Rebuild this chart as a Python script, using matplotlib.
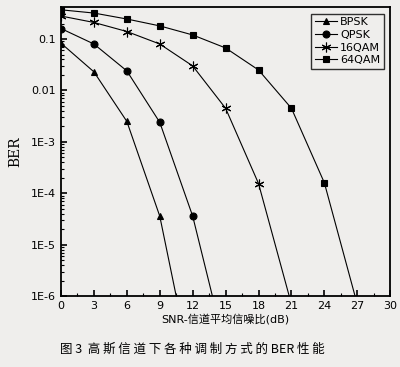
import matplotlib.pyplot as plt
from matplotlib.ticker import FixedLocator, MultipleLocator

plt.rcParams['font.family'] = ['DejaVu Sans', 'Noto Sans CJK SC']

# BER curves (last point = where the curve leaves the axis)
snr_bpsk = [0, 3, 6, 9, 10.5]
ber_bpsk = [0.083, 0.023, 0.0025, 3.6e-5, 1e-6]
snr_qpsk = [0, 3, 6, 9, 12, 13.8]
ber_qpsk = [0.16, 0.08, 0.024, 0.0024, 3.6e-5, 1e-6]
snr_16qam = [0, 3, 6, 9, 12, 15, 18, 20.8]
ber_16qam = [0.28, 0.21, 0.14, 0.08, 0.03, 0.0045, 1.55e-4, 1e-6]
snr_64qam = [0, 3, 6, 9, 12, 15, 18, 21, 24, 26.8]
ber_64qam = [0.37, 0.32, 0.245, 0.18, 0.12, 0.067, 0.025, 0.0045, 1.6e-4, 1e-6]

ytick_vals = [0.1, 0.01, 1e-3, 1e-4, 1e-5, 1e-6]
ytick_labels = ['0.1', '0.01', '1E-3', '1E-4', '1E-5', '1E-6']

bg = '#efeeec'
fig = plt.figure(figsize=(4, 3.67), dpi=100, facecolor=bg)
ax = fig.add_axes([0.1525, 0.193, 0.823, 0.788], facecolor=bg)

star = (6, 2, 0)
series = [
    (snr_bpsk, ber_bpsk, '^', 5, 'BPSK'),
    (snr_qpsk, ber_qpsk, 'o', 5, 'QPSK'),
    (snr_16qam, ber_16qam, star, 7, '16QAM'),
    (snr_64qam, ber_64qam, 's', 5, '64QAM'),
]
for x, y, m, ms, lab in series:
    # marker only on the read points, not on the exit point
    ax.plot(x, y, color='black', lw=0.8, marker=m, markersize=ms,
            markevery=list(range(len(x) - 1)), label=lab,
            markeredgewidth=0.8)

ax.set_yscale('log')
ax.set_xlim(0, 30)
ax.set_ylim(1e-6, 0.42)
ax.xaxis.set_major_locator(MultipleLocator(3))
ax.xaxis.set_minor_locator(MultipleLocator(1.5))
ax.yaxis.set_major_locator(FixedLocator(ytick_vals))
ax.set_yticklabels(ytick_labels)
ax.tick_params(axis='both', which='major', direction='in', length=4,
               width=1.2, labelsize=8)
ax.tick_params(axis='both', which='minor', direction='in', length=2, width=0.8)
for s in ax.spines.values():
    s.set_linewidth(1.3)

ax.set_xlabel('SNR-信道平均信噪比(dB)', fontsize=8, labelpad=2)
ax.set_ylabel('BER', fontsize=10, family='serif', labelpad=6)

leg = ax.legend(loc='upper right', fontsize=8, frameon=True, fancybox=False,
                handlelength=2.0, handletextpad=0.3, borderpad=0.3,
                labelspacing=0.25, borderaxespad=0.6)
leg.get_frame().set_edgecolor('black')
leg.get_frame().set_linewidth(1.0)
leg.get_frame().set_facecolor(bg)

fig.text(0.48, 0.03, '图 3  高 斯 信 道 下 各 种 调 制 方 式 的 BER 性 能',
         ha='center', va='bottom', fontsize=9,
         family=['Noto Sans CJK SC', 'DejaVu Sans'])

fig.savefig('out.png', dpi=100, facecolor=bg)
